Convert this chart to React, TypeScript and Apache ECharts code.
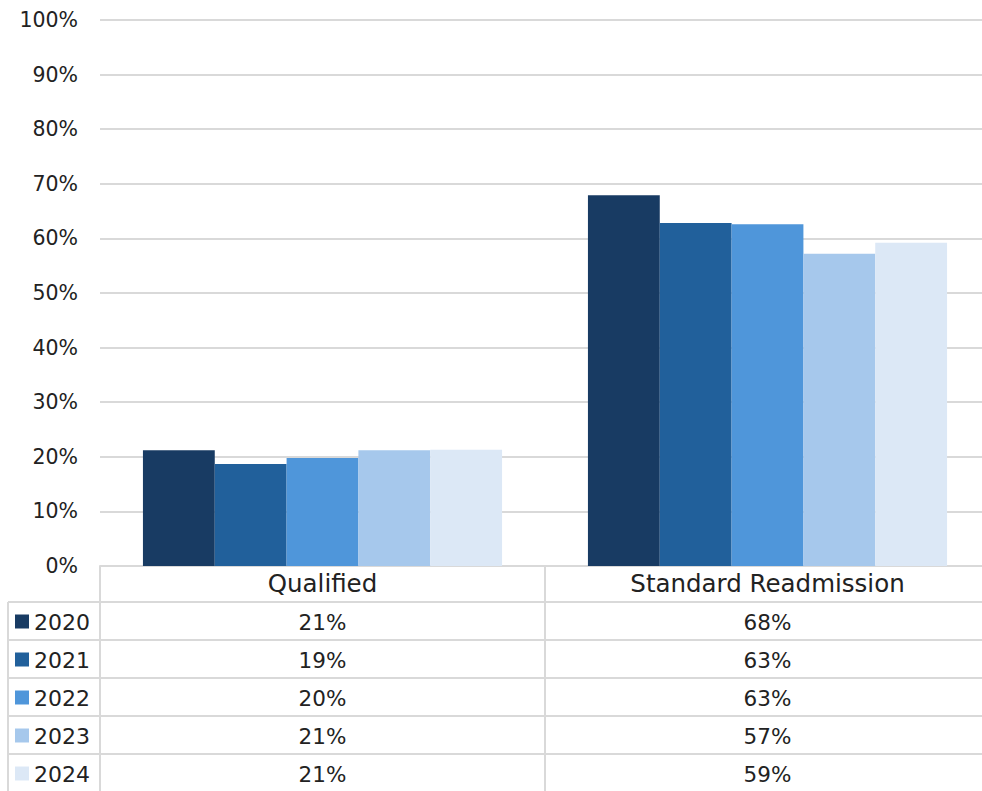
import React, { useEffect, useRef } from "react";
import * as echarts from "echarts";

const categories = ["Qualified", "Standard Readmission"];
const years = ["2020", "2021", "2022", "2023", "2024"];
const values2020 = [21.2, 67.9];
const values2021 = [18.7, 62.8];
const values2022 = [19.8, 62.6];
const values2023 = [21.2, 57.2];
const values2024 = [21.3, 59.2];
const seriesValues = [values2020, values2021, values2022, values2023, values2024];
const colors = ["#183B63", "#21609B", "#4F96DA", "#A6C8EC", "#DCE8F6"];

const FONT = "'DejaVu Sans', sans-serif";
const TEXT = "#222222";
const LINE = "#d9d9d9";

export default function App() {
  const ref = useRef<HTMLDivElement>(null);
  useEffect(() => {
    if (!ref.current) return;
    const chart = echarts.init(ref.current, null, { renderer: "svg" });
    const W = 990;
    const gridLeft = 100;
    const axisY = 566;
    const headerBottom = 602;
    const rowH = 38;
    const catW = (W - gridLeft) / categories.length;

    const graphic: any[] = [];
    for (let i = 0; i < years.length; i++) {
      const y = headerBottom + i * rowH;
      graphic.push({
        type: "line",
        shape: { x1: 8, y1: y, x2: W, y2: y },
        style: { stroke: LINE, lineWidth: 2 },
      });
    }
    graphic.push({ type: "line", shape: { x1: 8, y1: headerBottom, x2: 8, y2: 791 }, style: { stroke: LINE, lineWidth: 2 } });
    for (let c = 0; c <= categories.length - 1; c++) {
      const x = gridLeft + c * catW;
      graphic.push({ type: "line", shape: { x1: x, y1: axisY, x2: x, y2: 791 }, style: { stroke: LINE, lineWidth: 2 } });
    }
    years.forEach((yr, i) => {
      const cy = headerBottom + i * rowH + rowH / 2 + 0.5;
      graphic.push({ type: "rect", shape: { x: 15, y: cy - 7, width: 14, height: 14 }, style: { fill: colors[i] } });
      graphic.push({
        type: "text",
        x: 34,
        y: cy + 1,
        style: { text: yr, fontSize: 22, fontFamily: FONT, fill: TEXT, verticalAlign: "middle", align: "left" },
      });
      categories.forEach((_, c) => {
        graphic.push({
          type: "text",
          x: gridLeft + c * catW + catW / 2,
          y: cy + 1,
          style: {
            text: Math.round(seriesValues[i][c]) + "%",
            fontSize: 21.5,
            fontFamily: FONT,
            fill: TEXT,
            verticalAlign: "middle",
            align: "center",
          },
        });
      });
    });

    chart.setOption({
      animation: false,
      grid: { left: gridLeft, right: 0, top: 20, bottom: 791 - axisY },
      xAxis: {
        type: "category",
        data: categories,
        axisLine: { lineStyle: { color: LINE, width: 2 } },
        axisTick: { show: false },
        axisLabel: { color: TEXT, fontSize: 24.5, fontFamily: FONT, margin: 5 },
      },
      yAxis: {
        type: "value",
        min: 0,
        max: 100,
        interval: 10,
        axisLabel: { formatter: "{value}%", color: TEXT, fontSize: 20.5, fontFamily: FONT, margin: 22 },
        splitLine: { lineStyle: { color: LINE, width: 2 } },
        axisLine: { show: false },
        axisTick: { show: false },
      },
      series: years.map((yr, i) => ({
        name: yr,
        type: "bar",
        data: seriesValues[i],
        barGap: "0%",
        barCategoryGap: "19.3%",
        itemStyle: { color: colors[i] },
      })),
      graphic,
    });
    return () => chart.dispose();
  }, []);
  return (
    <div style={{ position: "absolute", left: 0, top: 0, width: 982, height: 791, overflow: "hidden" }}>
      <div ref={ref} style={{ width: 990, height: 791 }} />
    </div>
  );
}
